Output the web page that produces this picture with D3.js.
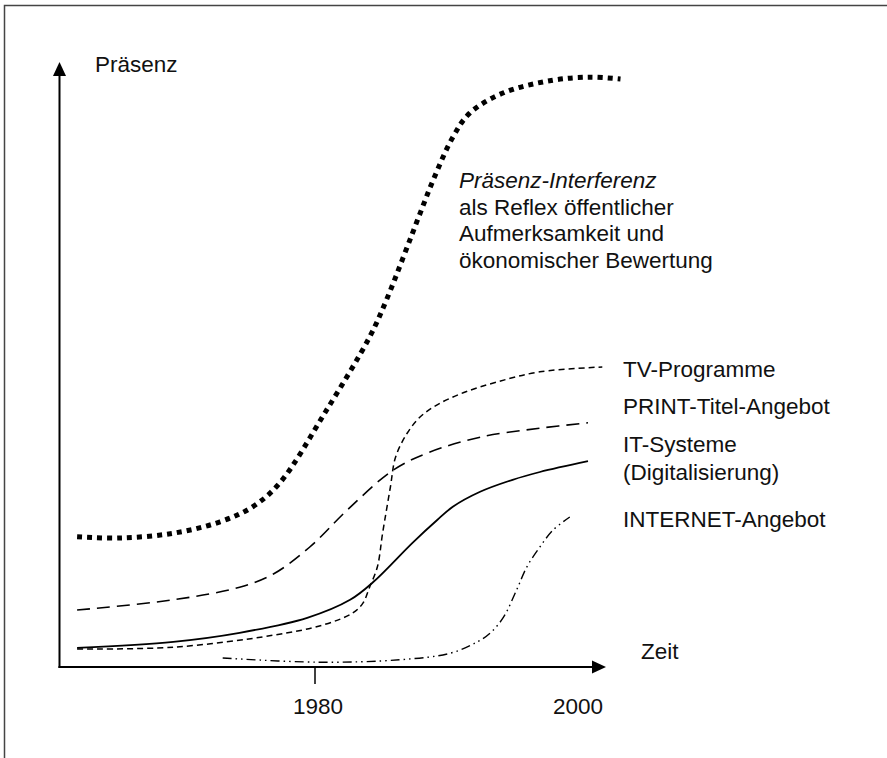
<!DOCTYPE html>
<html>
<head>
<meta charset="utf-8">
<script src="https://d3js.org/d3.v7.min.js"></script>
<style>
  body { margin: 0; background: #fff; }
  text { font-family: "Liberation Sans", Arial, sans-serif; font-size: 22.5px; fill: #111; }
</style>
</head>
<body>
<div class="canvas"></div>
<script>
// values: year -> Präsenz (0..100)
const praesenzYears  = [1961.7, 1965, 1969.1, 1972.7, 1975.2, 1977.3, 1980.8, 1984.2, 1985.5, 1988.1, 1989.1, 1990.6, 1991.9, 1994.5, 1998.3, 2001.2, 2003.5];
const praesenzValues = [21.7, 21.5, 22.3, 24.2, 26.7, 30.7, 42.5, 55, 61.2, 75.7, 81.2, 88.3, 92.3, 95.7, 97.8, 98.3, 98];

const tvYears  = [1961.7, 1969.1, 1976.8, 1980.6, 1982.9, 1983.7, 1984.2, 1984.8, 1985.2, 1985.8, 1986.2, 1987.1, 1988.1, 1989.4, 1991.4, 1994, 1997.3, 2002.1];
const tvValues = [3.0, 3.3, 5.3, 7, 9, 10.7, 13.3, 16.7, 22.3, 30, 35, 39, 41.7, 43.7, 45.7, 47.5, 49.2, 50];

const printYears  = [1961.7, 1969.1, 1974.2, 1976.8, 1979.6, 1982.5, 1986, 1988.8, 1992.7, 1997.3, 2001];
const printValues = [9.5, 11.2, 13.3, 15.5, 20, 26.2, 32.8, 35.8, 38.3, 39.8, 40.7];

const itYears  = [1961.7, 1969.1, 1974.2, 1979.4, 1982.7, 1984.5, 1987.5, 1989.4, 1990.6, 1992.7, 1995.2, 1997.3, 2001];
const itValues = [3.2, 4.2, 5.7, 8.2, 11.2, 14.2, 20.7, 24.5, 26.7, 29.2, 31.2, 32.5, 34.3];

const netYears  = [1972.9, 1980.2, 1986.5, 1990.4, 1992.5, 1993.5, 1994.5, 1995.5, 1996.3, 1997.3, 1998.3, 1999.6];
const netValues = [1.5, 0.8, 1.2, 2.3, 4.2, 5.7, 8.3, 12.8, 16.7, 20, 22.8, 25];

const tickYears = [1980, 2000];
const seriesLabels = ['TV-Programme', 'PRINT-Titel-Angebot', 'IT-Systeme', '(Digitalisierung)', 'INTERNET-Angebot'];
const noteLines = ['Präsenz-Interferenz', 'als Reflex öffentlicher', 'Aufmerksamkeit und', 'ökonomischer Bewertung'];

const width = 887, height = 758;

const svg = d3.select('.canvas')
  .append('svg')
   .attr('width', width)
   .attr('height', height);

// frame (open at right and bottom, as in the scan)
svg.append('path')
  .attr('d', `M4.5,${height} V5.5 H${width}`)
  .attr('fill', 'none')
  .attr('stroke', '#444')
  .attr('stroke-width', 1.5);

const x = d3.scaleLinear().domain([1980, 2000]).range([315, 575]);
const y = d3.scaleLinear().domain([0, 100]).range([667, 67]);

const x0 = 59.5, xEnd = 606, y0 = y(0), yTop = 62;

// axes with arrowheads
svg.append('line')
  .attr('x1', x0).attr('y1', y0 + 1).attr('x2', x0).attr('y2', yTop + 10)
  .attr('stroke', '#000').attr('stroke-width', 2);
svg.append('path')
  .attr('d', `M${x0},${yTop} L${x0 - 6.5},${yTop + 14} L${x0 + 6.5},${yTop + 14} Z`)
  .attr('fill', '#000');

svg.append('line')
  .attr('x1', x0 - 1).attr('y1', y0).attr('x2', xEnd - 10).attr('y2', y0)
  .attr('stroke', '#000').attr('stroke-width', 2);
svg.append('path')
  .attr('d', `M${xEnd},${y0} L${xEnd - 14},${y0 - 6.5} L${xEnd - 14},${y0 + 6.5} Z`)
  .attr('fill', '#000');

// tick only at 1980
svg.append('line')
  .attr('x1', x(1980)).attr('x2', x(1980))
  .attr('y1', y0).attr('y2', y0 + 17)
  .attr('stroke', '#000').attr('stroke-width', 1.5);

svg.selectAll('text.tick')
  .data(tickYears)
  .enter().append('text')
   .attr('class', 'tick')
   .attr('x', d => x(d) + 3)
   .attr('y', 714)
   .attr('text-anchor', 'middle')
   .text(d => d);

svg.append('text').attr('x', 95).attr('y', 72).text('Präsenz');
svg.append('text').attr('x', 641).attr('y', 659).text('Zeit');

// curves
const line = d3.line()
  .x(d => x(d[0]))
  .y(d => y(d[1]))
  .curve(d3.curveCatmullRom.alpha(0.5));

const zip = (a, b) => a.map((v, i) => [v, b[i]]);

const series = [
  { pts: zip(praesenzYears, praesenzValues), w: 5,   dash: '5,5' },
  { pts: zip(tvYears, tvValues),             w: 1.5, dash: '6,4' },
  { pts: zip(printYears, printValues),       w: 1.6, dash: '13,7' },
  { pts: zip(itYears, itValues),             w: 1.8, dash: null },
  { pts: zip(netYears, netValues),           w: 1.4, dash: '9,4,1.5,4,1.5,4' }
];

svg.selectAll('path.curve')
  .data(series)
  .enter().append('path')
   .attr('class', 'curve')
   .attr('fill', 'none')
   .attr('stroke', '#000')
   .attr('stroke-width', d => d.w)
   .attr('stroke-dasharray', d => d.dash)
   .attr('d', d => line(d.pts));

// series labels on the right
const labelY = [377, 414, 452, 480, 527];
svg.selectAll('text.series')
  .data(seriesLabels)
  .enter().append('text')
   .attr('class', 'series')
   .attr('x', 623)
   .attr('y', (d, i) => labelY[i])
   .text(d => d);

// annotation
svg.selectAll('text.note')
  .data(noteLines)
  .enter().append('text')
   .attr('class', 'note')
   .attr('x', 459)
   .attr('y', (d, i) => 188 + i * 26.5)
   .style('font-style', (d, i) => i === 0 ? 'italic' : 'normal')
   .text(d => d);
</script>
</body>
</html>
